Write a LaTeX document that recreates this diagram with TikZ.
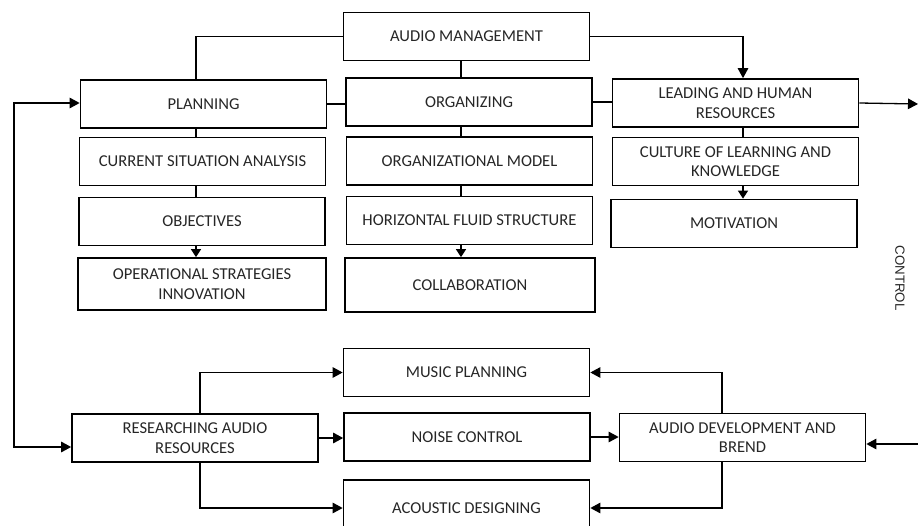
\documentclass[tikz,border=0pt]{standalone}
\usepackage{fontspec}
\setmainfont{Carlito}
\newfontfamily\arialfont{Liberation Sans}
\usetikzlibrary{arrows.meta}

\begin{document}
\begin{tikzpicture}[x=1pt,y=-1pt,
  box/.style={draw, line width=1.7pt, minimum width=246pt, minimum height=48pt,
    inner sep=0pt, align=center, text=black!85,
    font=\fontsize{16.6}{19.5}\selectfont},
  link/.style={line width=1.3pt},
  arr/.style={link, -{Triangle[length=10pt,width=10.5pt]}},
  sarr/.style={link, -{Triangle[length=8pt,width=10pt]}},
]
\useasboundingbox (0,0) rectangle (918,525);
\clip (0,0) rectangle (918,525);

% column guide lines for the vertical links
\coordinate (colP) at (196,0);
\coordinate (colO) at (461,0);
\coordinate (colL) at (743,0);
\coordinate (colR) at (200,0);
\coordinate (colD) at (722,0);
\coordinate (loopTop) at (14,103);
\coordinate (loopBot) at (14,447);
\coordinate (outTop) at (918,104);
\coordinate (inBot) at (918,444);

% upper block: management functions
\node[box] (am)   at (466.5,36.5) {AUDIO MANAGEMENT};
\node[box] (plan) at (203.5,104)  {PLANNING};
\node[box] (org)  at (469,102)    {ORGANIZING};
\node[box] (lead) at (735.5,103)  {LEADING AND HUMAN\\RESOURCES};
\node[box] (csa)  at (202.5,161.5){CURRENT SITUATION ANALYSIS};
\node[box] (om)   at (469.5,161)  {ORGANIZATIONAL MODEL};
\node[box] (cul)  at (735.5,161.5){CULTURE OF LEARNING AND\\KNOWLEDGE};
\node[box] (obj)  at (202,221.5)  {OBJECTIVES};
\node[box] (hfs)  at (469.5,220.5){HORIZONTAL FLUID STRUCTURE};
\node[box] (mot)  at (734,223.5)  {MOTIVATION};
\node[box, minimum width=248pt, minimum height=52pt] (ops) at (202,284) {OPERATIONAL STRATEGIES\\INNOVATION};
\node[box, minimum width=250pt, minimum height=54pt] (col) at (470,285) {COLLABORATION};

% lower block: audio work
\node[box] (mus) at (466.5,372.5) {MUSIC PLANNING};
\node[box] (noi) at (467,437)     {NOISE CONTROL};
\node[box, minimum height=56pt] (aco) at (466.5,508) {ACOUSTIC DESIGNING};
\node[box] (res) at (195,438)     {RESEARCHING AUDIO\\RESOURCES};
\node[box] (dev) at (742.5,437.5) {AUDIO DEVELOPMENT AND\\BREND};

\node[rotate=-90, font=\arialfont\fontsize{13.3}{15}\selectfont, text=black!85] (ctl) at (900,278) {CONTROL};

% management tree
\draw[link] (am.west) -| (colP |- plan.north);
\draw[arr]  (am.east) -| (colL |- lead.north);
\draw[link] (am.south -| colO) -- (org.north -| colO);
\draw[link] (plan.east) -- (plan.east -| org.west);
\draw[link] (org.east) -- (org.east -| lead.west);

% planning column
\draw[link] (plan.south -| colP) -- (csa.north -| colP);
\draw[link] (csa.south -| colP) -- (obj.north -| colP);
\draw[sarr] (obj.south -| colP) -- (ops.north -| colP);

% organizing column
\draw[link] (org.south -| colO) -- (om.north -| colO);
\draw[link] (om.south -| colO) -- (hfs.north -| colO);
\draw[sarr] (hfs.south -| colO) -- (col.north -| colO);

% leading column
\draw[link] (lead.south -| colL) -- (cul.north -| colL);
\draw[sarr] (cul.south -| colL) -- (mot.north -| colL);

% control loop
\draw[arr] (lead.east) -- (outTop);
\draw[arr] (inBot) -- (inBot -| dev.east);
\draw[link, {Triangle[length=10pt,width=10.5pt]}-{Triangle[length=10pt,width=10.5pt]}]
  (loopTop -| plan.west) -- (loopTop) -- (loopBot) -- (loopBot -| res.west);

% audio work flow
\draw[arr] (res.north -| colR) |- (mus.west);
\draw[arr] (res.east) -- (res.east -| noi.west);
\draw[arr] (res.south -| colR) |- (aco.west);
\draw[arr] (dev.north -| colD) |- (mus.east);
\draw[arr] (noi.east) -- (noi.east -| dev.west);
\draw[arr] (dev.south -| colD) |- (aco.east);
\end{tikzpicture}
\end{document}
